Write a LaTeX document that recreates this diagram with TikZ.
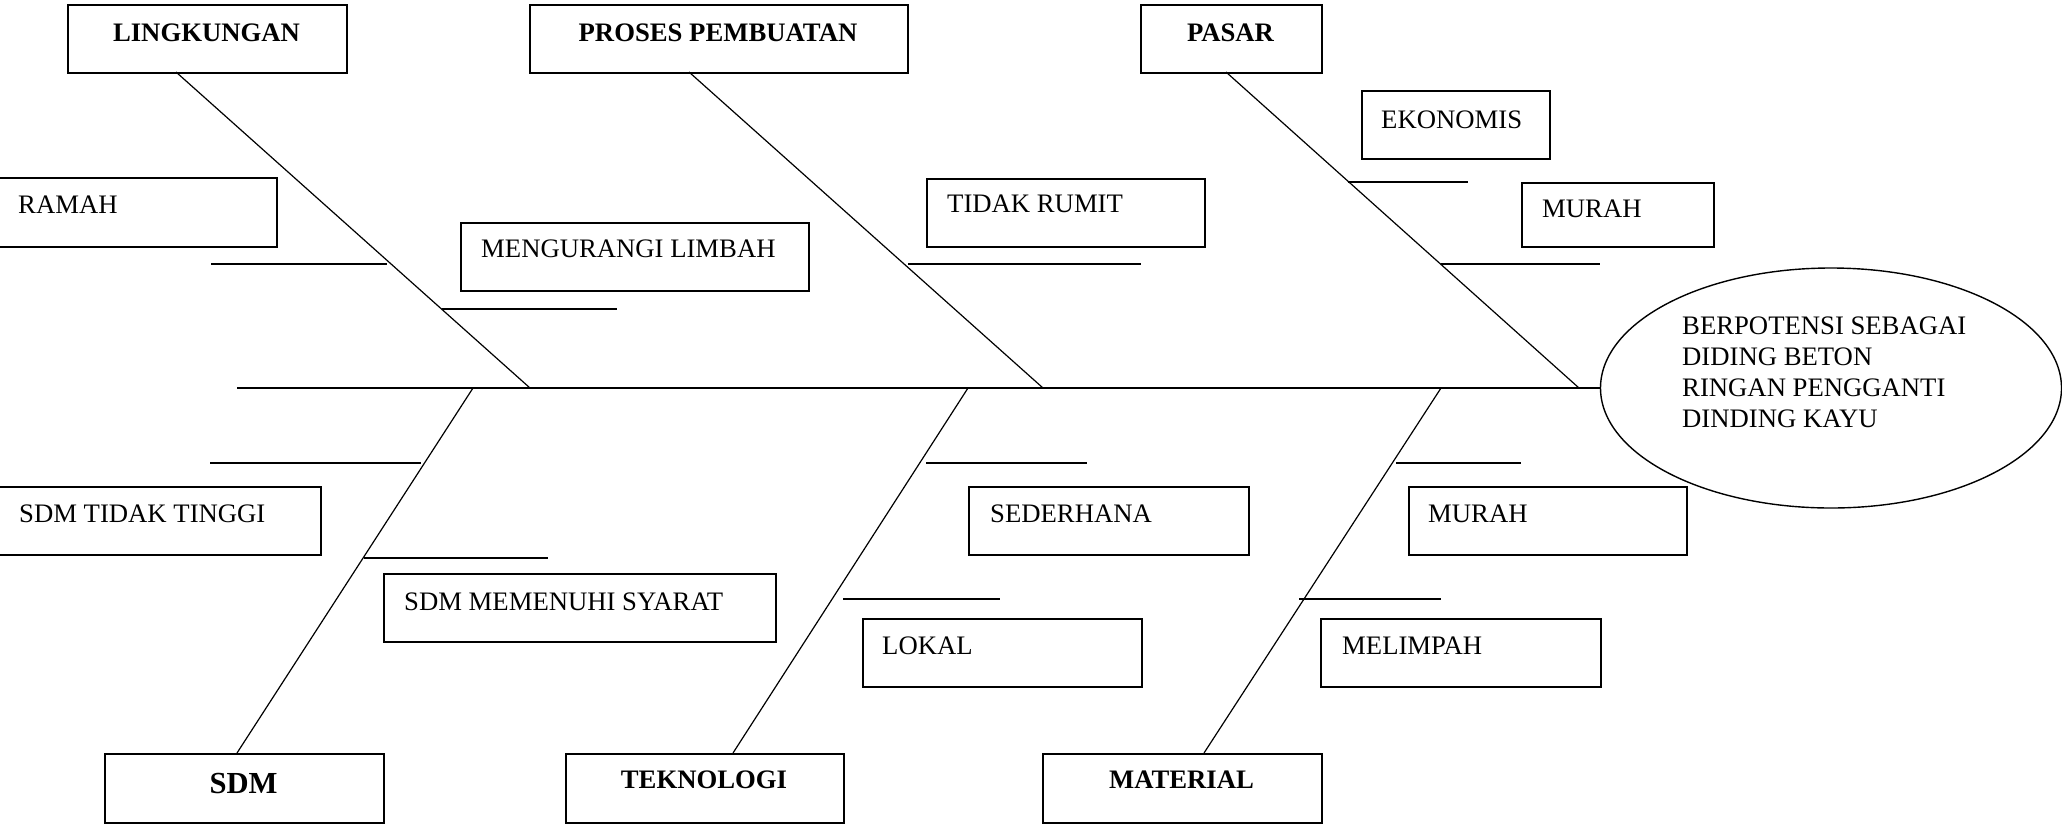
\documentclass[tikz,border=0pt]{standalone}
\usepackage{fontspec}
\setmainfont{Liberation Serif}
\usetikzlibrary{calc}
\begin{document}
\begin{tikzpicture}[x=1pt,y=-1pt,
  boxst/.style={draw,line width=1.6pt,inner sep=0pt,anchor=north west},
  txt/.style={inner sep=0pt,anchor=base west,font=\fontsize{26.7}{31}\selectfont},
  head/.style={inner sep=0pt,anchor=base,font=\fontsize{26.7}{31}\selectfont\bfseries},
  bone/.style={line width=1.2pt},
  twig/.style={line width=1.6pt}]
\useasboundingbox (0,0) rectangle (2062,823);
% heading boxes
\node[boxst,minimum width=279pt,minimum height=68pt] (lk) at (67,4) {};
\node[head] (lkt) at (206.5,41) {LINGKUNGAN};
\node[boxst,minimum width=378pt,minimum height=68pt] (pp) at (529,4) {};
\node[head] (ppt) at (718,41) {PROSES PEMBUATAN};
\node[boxst,minimum width=181pt,minimum height=68pt] (ps) at (1140,4) {};
\node[head] (pst) at (1230.5,41) {PASAR};
\node[boxst,minimum width=279pt,minimum height=69pt] (sdm) at (104,753) {};
\node[head,font=\fontsize{30.6}{34}\selectfont\bfseries] (sdmt) at (243.5,793) {SDM};
\node[boxst,minimum width=278pt,minimum height=69pt] (tk) at (565,753) {};
\node[head] (tkt) at (704,788) {TEKNOLOGI};
\node[boxst,minimum width=279pt,minimum height=69pt] (mt) at (1042,753) {};
\node[head] (mtt) at (1181.5,788) {MATERIAL};
% cause boxes
\node[boxst,minimum width=279pt,minimum height=69pt] (b1) at (-3,177) {};
\node[txt] (b1t) at (18,213) {RAMAH};
\node[boxst,minimum width=348pt,minimum height=68pt] (b2) at (460,222) {};
\node[txt] (b2t) at (481,257) {MENGURANGI LIMBAH};
\node[boxst,minimum width=278pt,minimum height=68pt] (b3) at (926,178) {};
\node[txt] (b3t) at (947,212) {TIDAK RUMIT};
\node[boxst,minimum width=188pt,minimum height=68pt] (b4) at (1361,90) {};
\node[txt] (b4t) at (1381,128) {EKONOMIS};
\node[boxst,minimum width=192pt,minimum height=64pt] (b5) at (1521,182) {};
\node[txt] (b5t) at (1542,217) {MURAH};
\node[boxst,minimum width=323pt,minimum height=68pt] (b6) at (-3,486) {};
\node[txt] (b6t) at (19,522) {SDM TIDAK TINGGI};
\node[boxst,minimum width=392pt,minimum height=68pt] (b7) at (383,573) {};
\node[txt] (b7t) at (404,610) {SDM MEMENUHI SYARAT};
\node[boxst,minimum width=280pt,minimum height=68pt] (b8) at (968,486) {};
\node[txt] (b8t) at (990,522) {SEDERHANA};
\node[boxst,minimum width=279pt,minimum height=68pt] (b9) at (862,618) {};
\node[txt] (b9t) at (882,654) {LOKAL};
\node[boxst,minimum width=278pt,minimum height=68pt] (b10) at (1408,486) {};
\node[txt] (b10t) at (1428,522) {MURAH};
\node[boxst,minimum width=280pt,minimum height=68pt] (b11) at (1320,618) {};
\node[txt] (b11t) at (1342,654) {MELIMPAH};
% effect ellipse
\draw[line width=1.4pt] (1831,388) ellipse [x radius=230.5, y radius=120];
\coordinate (head) at (1600.5,388);
\node[txt,align=left,anchor=base west] (eff) at (1682,427) {BERPOTENSI SEBAGAI\\DIDING BETON\\RINGAN PENGGANTI\\DINDING KAYU};
% spine
\coordinate (tail) at (237,388);
\draw[bone] (tail) -- (head);
% main bones
\coordinate (lkb) at (176,72);   \coordinate (lks) at (530,388);
\coordinate (ppb) at (689,72);   \coordinate (pps) at (1043,388);
\coordinate (psb) at (1226,72);  \coordinate (pss) at (1579,388);
\coordinate (sdmb) at (237,753); \coordinate (sdms) at (473,388);
\coordinate (tkb) at (733,753);  \coordinate (tks) at (968,388);
\coordinate (mtb) at (1204,753); \coordinate (mts) at (1441,388);
\draw[bone] (lkb) -- (lks);
\draw[bone] (ppb) -- (pps);
\draw[bone] (psb) -- (pss);
\draw[bone] (sdmb) -- (sdms);
\draw[bone] (tkb) -- (tks);
\draw[bone] (mtb) -- (mts);
% twigs
\draw[twig] (211,264) -- (387,264);
\draw[twig] (442,309) -- (617,309);
\draw[twig] (908,264) -- (1141,264);
\draw[twig] (1348,182) -- (1468,182);
\draw[twig] (1441,264) -- (1600,264);
\draw[twig] (210,463) -- (421,463);
\draw[twig] (364,558) -- (548,558);
\draw[twig] (926,463) -- (1087,463);
\draw[twig] (843,599) -- (1000,599);
\draw[twig] (1396,463) -- (1521,463);
\draw[twig] (1299,599) -- (1441,599);
\end{tikzpicture}
\end{document}
